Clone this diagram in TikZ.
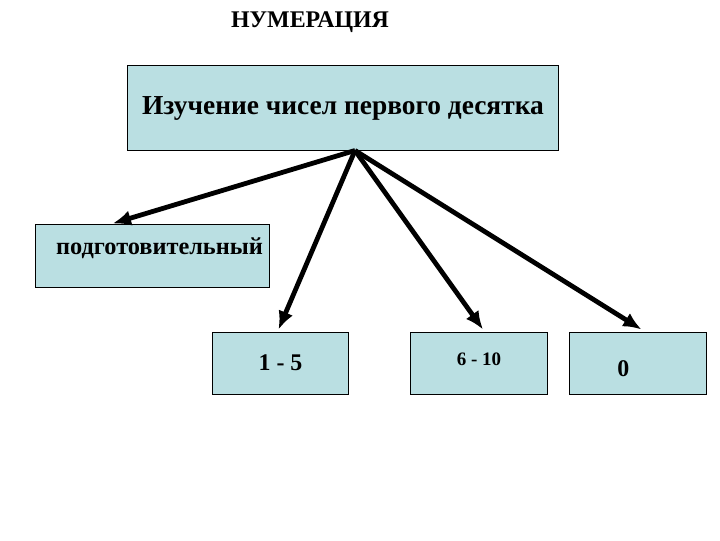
\documentclass[tikz,border=0pt]{standalone}
\usepackage{fontspec}
\setmainfont{Liberation Serif}
\usetikzlibrary{positioning,calc,arrows.meta}
\definecolor{boxfill}{RGB}{186,223,226}
\tikzset{box/.style={draw=black,line width=0.7pt,fill=boxfill,inner sep=0pt,font=\bfseries},
	link/.style={line width=3.4pt,-{Latex[length=13pt,width=11pt]}}}
\begin{document}
\begin{tikzpicture}[x=0.025cm,y=-0.025cm]
\useasboundingbox (0,0) rectangle (720,540);
\node [font=\bfseries\fontsize{17}{20}\selectfont] (title) at (310,22) {НУМЕРАЦИЯ};
\node [box, minimum width=10.75cm, minimum height=2.1cm, font=\bfseries\fontsize{19.5}{23}\selectfont] (main) at (343,108) {Изучение чисел первого десятка};
\node [box, minimum width=5.825cm, minimum height=1.575cm, text depth=14pt, font=\bfseries\fontsize{17.3}{20}\selectfont] (prep) at (152.5,255.5) {\hspace*{10pt}подготовительный};
\node [box, minimum width=3.375cm, minimum height=1.55cm, font=\bfseries\fontsize{17}{20}\selectfont] (one) at (280.5,363) {1 - 5};
\node [box, minimum width=3.4cm, minimum height=1.55cm, text depth=5.5pt, font=\bfseries\fontsize{13.5}{16}\selectfont] (six) at (479,363) {6 - 10};
\node [box, minimum width=3.425cm, minimum height=1.55cm, text height=20pt, font=\bfseries\fontsize{17}{20}\selectfont] (zero) at (637.5,363) {\hspace*{-20pt}0};
\coordinate (hub) at ($(main.south)+(12,0)$);
\draw [link] (hub) -- ($(prep.north west)!0.33!(prep.north east)$);
\draw [link] (hub) -- ($(one.north)+(-2,-2)$);
\draw [link] (hub) -- ($(six.north)+(4,-2)$);
\draw [link] (hub) -- ($(zero.north)+(4,-2)$);
\end{tikzpicture}
\end{document}
